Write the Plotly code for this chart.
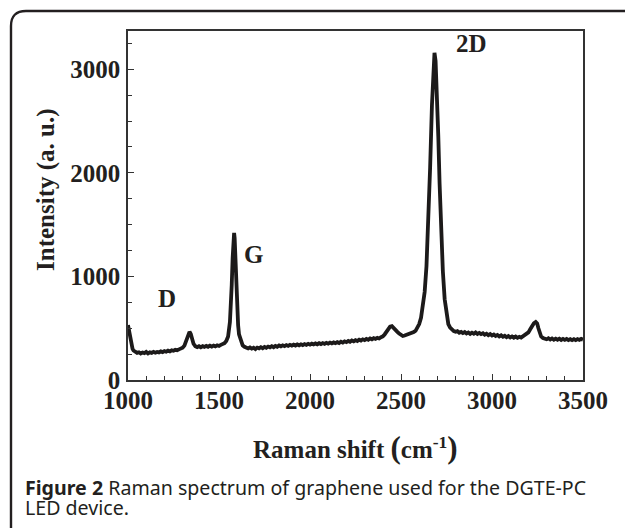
import plotly.graph_objects as go

# Raman shift (cm^-1) and intensity (a.u.)
shift = [1000, 1005, 1010, 1015, 1020, 1025, 1030, 1040, 1050, 1060, 1070, 1080, 1090, 1100,
         1110, 1120, 1130, 1140, 1150, 1160, 1170, 1180, 1190, 1200, 1210, 1220, 1230, 1240,
         1250, 1260, 1270, 1280, 1290, 1300, 1310, 1320, 1330, 1338, 1345, 1350, 1360, 1370,
         1380, 1390, 1400, 1410, 1420, 1430, 1440, 1450, 1460, 1470, 1480, 1490, 1500, 1510,
         1520, 1530, 1540, 1550, 1560, 1565, 1570, 1575, 1580, 1583, 1586, 1590, 1595, 1600,
         1605, 1610, 1620, 1630, 1640, 1650, 1660, 1670, 1680, 1690, 1700, 1710, 1720, 1730,
         1740, 1750, 1760, 1770, 1780, 1790, 1800, 1810, 1820, 1830, 1840, 1850, 1860, 1870,
         1880, 1890, 1900, 1910, 1920, 1930, 1940, 1950, 1960, 1970, 1980, 1990, 2000, 2010,
         2020, 2030, 2040, 2050, 2060, 2070, 2080, 2090, 2100, 2110, 2120, 2130, 2140, 2150,
         2160, 2170, 2180, 2190, 2200, 2210, 2220, 2230, 2240, 2250, 2260, 2270, 2280, 2290,
         2300, 2310, 2320, 2330, 2340, 2350, 2360, 2370, 2380, 2390, 2400, 2410, 2420, 2430,
         2440, 2450, 2460, 2470, 2480, 2490, 2500, 2510, 2520, 2530, 2540, 2550, 2560, 2570,
         2580, 2590, 2600, 2610, 2620, 2630, 2640, 2650, 2660, 2670, 2678, 2684, 2690, 2697,
         2705, 2712, 2720, 2730, 2740, 2750, 2760, 2770, 2780, 2790, 2800, 2810, 2820, 2830,
         2840, 2850, 2860, 2870, 2880, 2890, 2900, 2910, 2920, 2930, 2940, 2950, 2960, 2970,
         2980, 2990, 3000, 3010, 3020, 3030, 3040, 3050, 3060, 3070, 3080, 3090, 3100, 3110,
         3120, 3130, 3140, 3150, 3160, 3170, 3180, 3190, 3200, 3210, 3220, 3230, 3240, 3248,
         3255, 3262, 3270, 3280, 3290, 3300, 3310, 3320, 3330, 3340, 3350, 3360, 3370, 3380,
         3390, 3400, 3410, 3420, 3430, 3440, 3450, 3460, 3470, 3480, 3490, 3500]

intensity = [530, 480, 420, 370, 330, 300, 285, 270, 262, 268, 256, 266, 260, 271,
             257, 267, 262, 272, 263, 271, 266, 276, 269, 279, 273, 283, 277, 287,
             282, 291, 287, 296, 300, 311, 332, 382, 440, 465, 445, 400, 350, 326,
             317, 326, 316, 327, 320, 329, 321, 331, 323, 333, 325, 335, 329, 339,
             345, 355, 376, 420, 560, 700, 920, 1180, 1400, 1420, 1370, 1180, 900, 680,
             530, 440, 370, 335, 320, 312, 305, 315, 303, 311, 299, 313, 305, 317,
             307, 319, 311, 323, 315, 327, 317, 329, 321, 333, 325, 335, 327, 337,
             329, 339, 331, 342, 333, 343, 335, 345, 337, 347, 339, 349, 341, 351,
             343, 353, 345, 355, 347, 357, 349, 359, 351, 361, 353, 363, 355, 365,
             357, 369, 361, 373, 365, 377, 369, 381, 373, 385, 377, 389, 381, 393,
             385, 397, 389, 401, 393, 405, 397, 407, 401, 413, 421, 440, 470, 500,
             515, 520, 505, 485, 465, 448, 435, 425, 430, 436, 440, 448, 455, 462,
             475, 500, 540, 600, 700, 850, 1100, 1500, 2050, 2650, 3050, 3160, 3080, 2800,
             2350, 1900, 1450, 1050, 780, 620, 540, 505, 485, 472, 466, 471, 457, 465,
             453, 463, 449, 459, 445, 457, 447, 459, 445, 455, 443, 451, 437, 447,
             433, 443, 429, 439, 425, 435, 421, 431, 417, 427, 413, 425, 411, 421,
             409, 419, 407, 417, 409, 421, 426, 440, 460, 490, 520, 548, 560, 545,
             500, 450, 420, 405, 400, 393, 403, 391, 401, 389, 399, 389, 399, 387,
             397, 387, 397, 385, 395, 385, 395, 385, 395, 387, 397, 390]

x_ticks = [1000, 1500, 2000, 2500, 3000, 3500]
y_ticks = [0, 1000, 2000, 3000]

peak_labels = ["D", "G", "2D"]
peak_label_x = [1213, 1689, 2890]
peak_label_y = [789, 1208, 3246]

ink = "#231f20"
serif = "Liberation Serif"

fig = go.Figure()
fig.add_trace(go.Scatter(x=shift, y=intensity, mode="lines",
                         line=dict(color="#1c1a1a", width=3.8), showlegend=False,
                         hoverinfo="skip"))

axis_common = dict(showgrid=False, zeroline=False, showline=True, mirror=True,
                   linecolor="#333333", linewidth=1.5, ticks="inside",
                   tickcolor="#333333", tickwidth=1.2, ticklen=6, automargin=False,
                   tickfont=dict(family=serif, size=25, color=ink, weight="bold"))

fig.update_xaxes(range=[1000, 3500], tickmode="array", tickvals=x_ticks,
                 ticktext=[str(v) for v in x_ticks], ticklabelstandoff=-3,
                 minor=dict(dtick=100, ticks="inside", ticklen=4, tickcolor="#333333",
                            tickwidth=1.1),
                 **axis_common)
fig.update_yaxes(range=[0, 3370], tickmode="array", tickvals=y_ticks,
                 ticktext=[str(v) for v in y_ticks], ticklabelstandoff=1,
                 minor=dict(dtick=250, ticks="inside", ticklen=4, tickcolor="#333333",
                            tickwidth=1.1),
                 **axis_common)

for t, xx, yy in zip(peak_labels, peak_label_x, peak_label_y):
    fig.add_annotation(x=xx, y=yy, text=t, showarrow=False,
                       font=dict(family=serif, size=25, color=ink, weight="bold"))

# geometry helpers (pixel -> paper)
L, R, T, B = 128, 42, 31, 150
W, H = 625, 530
pw, ph = W - L - R, H - T - B


def px(x):
    return (x - L) / pw


def py(y):
    return (H - B - y) / ph


# axis titles
fig.add_annotation(xref="paper", yref="paper", x=px(355), y=py(447),
                   text="Raman shift <span style='font-size:31px'>(</span>cm<sup>-1</sup><span style='font-size:31px'>)</span>",
                   showarrow=False, xanchor="center", yanchor="middle",
                   font=dict(family=serif, size=25, color=ink, weight="bold"))
fig.add_annotation(xref="paper", yref="paper", x=px(46), y=py(190),
                   text="Intensity (a. u.)", textangle=-90,
                   showarrow=False, xanchor="center", yanchor="middle",
                   font=dict(family=serif, size=25, color=ink, weight="bold"))

# caption
fig.add_annotation(xref="paper", yref="paper", x=px(23), y=py(487),
                   text="<b>Figure 2</b> Raman spectrum of graphene used for the DGTE-PC",
                   showarrow=False, xanchor="left", yanchor="middle",
                   font=dict(family="Noto Sans", size=19.6, color=ink))
fig.add_annotation(xref="paper", yref="paper", x=px(23), y=py(507),
                   text="LED device.",
                   showarrow=False, xanchor="left", yanchor="middle",
                   font=dict(family="Noto Sans", size=19.6, color=ink))

# outer rounded frame
path = (f"M {px(11)},{py(528)} L {px(11)},{py(26)} "
        f"Q {px(11)},{py(11)} {px(26)},{py(11)} L {px(630)},{py(11)}")
fig.add_shape(type="path", xref="paper", yref="paper", path=path,
              line=dict(color=ink, width=2.4))

fig.update_layout(width=W, height=H, margin=dict(l=L, r=R, t=T, b=B),
                  paper_bgcolor="white", plot_bgcolor="white")

fig.write_html("out.html", config={"displayModeBar": False},
               post_script="document.body.style.margin='0px';document.body.style.padding='0px';")
